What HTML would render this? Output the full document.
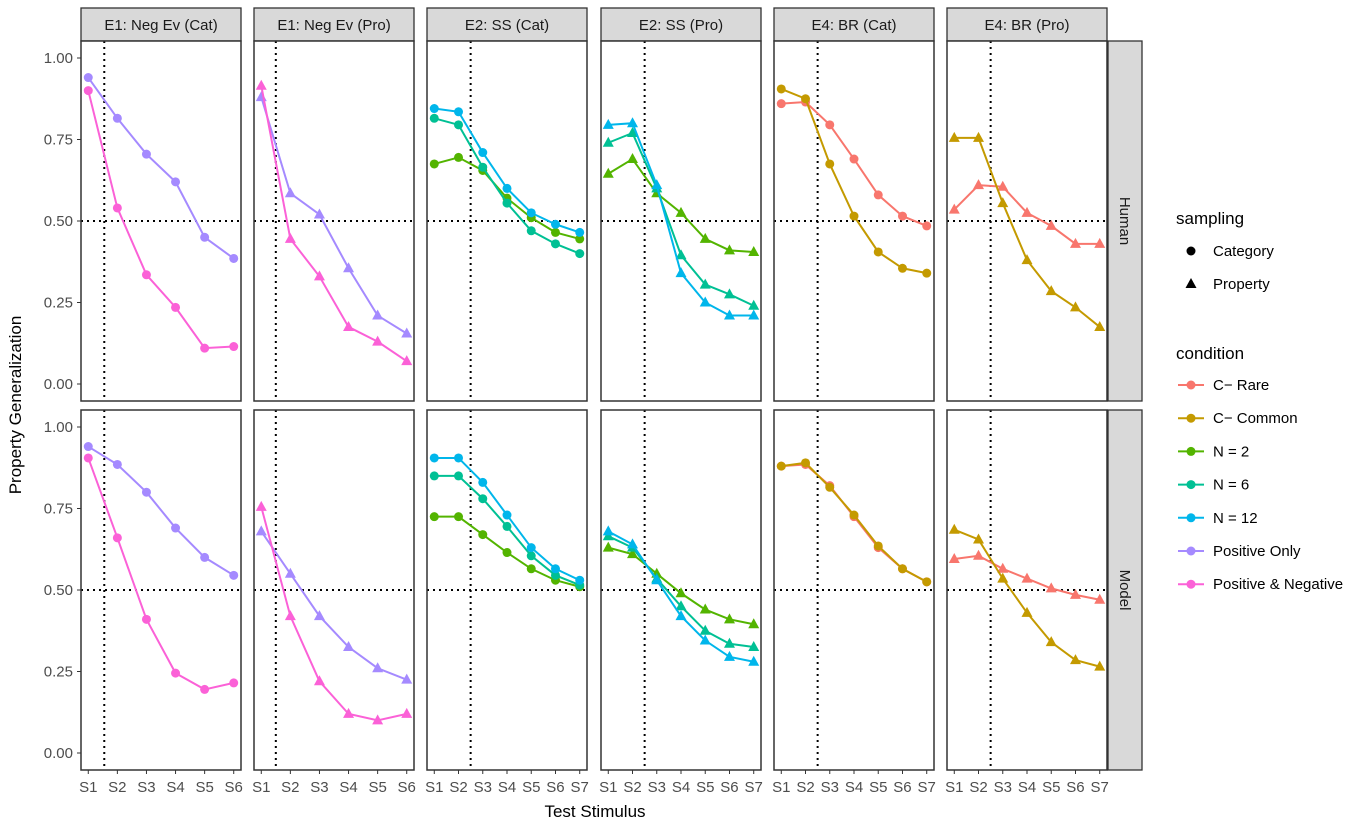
<!DOCTYPE html>
<html><head><meta charset="utf-8"><style>
body{margin:0;background:#fff;font-family:"Liberation Sans",sans-serif;}
svg text{font-family:"Liberation Sans",sans-serif;}
</style></head><body>
<svg id="c" width="1370" height="825" xmlns="http://www.w3.org/2000/svg"></svg>
<script>
const panelTitles=["E1: Neg Ev (Cat)","E1: Neg Ev (Pro)","E2: SS (Cat)","E2: SS (Pro)","E4: BR (Cat)","E4: BR (Pro)"];
const rowTitles=["Human","Model"];
const nStim=[6,6,7,7,7,7];
const vlinePos=[1.55,1.5,2.5,2.5,2.5,2.5];
const yTicks=[0,0.25,0.5,0.75,1];
const yTickLabels=["0.00","0.25","0.50","0.75","1.00"];
const condNames=["C\u2212 Rare","C\u2212 Common","N = 2","N = 6","N = 12","Positive Only","Positive & Negative"];
const condColors=["#F8766D","#C49A00","#53B400","#00C094","#00B6EB","#A58AFF","#FB61D7"];
const humanE1Cat=[[5,[.94,.815,.705,.62,.45,.385]],[6,[.90,.54,.335,.235,.11,.115]]];
const humanE1Pro=[[5,[.88,.585,.52,.355,.21,.155]],[6,[.915,.445,.33,.175,.13,.07]]];
const humanE2Cat=[[2,[.675,.695,.655,.57,.51,.465,.445]],[3,[.815,.795,.665,.555,.47,.43,.40]],[4,[.845,.835,.71,.60,.525,.49,.465]]];
const humanE2Pro=[[2,[.645,.69,.585,.525,.445,.41,.405]],[3,[.74,.77,.60,.395,.305,.275,.24]],[4,[.795,.80,.61,.34,.25,.21,.21]]];
const humanE4Cat=[[0,[.86,.865,.795,.69,.58,.515,.485]],[1,[.905,.875,.675,.515,.405,.355,.34]]];
const humanE4Pro=[[0,[.535,.61,.605,.525,.485,.43,.43]],[1,[.755,.755,.555,.38,.285,.235,.175]]];
const modelE1Cat=[[5,[.94,.885,.80,.69,.60,.545]],[6,[.905,.66,.41,.245,.195,.215]]];
const modelE1Pro=[[5,[.68,.55,.42,.325,.26,.225]],[6,[.755,.42,.22,.12,.10,.12]]];
const modelE2Cat=[[2,[.725,.725,.67,.615,.565,.53,.51]],[3,[.85,.85,.78,.695,.605,.545,.515]],[4,[.905,.905,.83,.73,.63,.565,.53]]];
const modelE2Pro=[[2,[.63,.61,.55,.49,.44,.41,.395]],[3,[.665,.63,.535,.45,.375,.335,.325]],[4,[.68,.64,.53,.42,.345,.295,.28]]];
const modelE4Cat=[[0,[.88,.885,.82,.725,.63,.565,.525]],[1,[.88,.89,.815,.73,.635,.565,.525]]];
const modelE4Pro=[[0,[.595,.605,.565,.535,.505,.485,.47]],[1,[.685,.655,.535,.43,.34,.285,.265]]];
const data=[[humanE1Cat,humanE1Pro,humanE2Cat,humanE2Pro,humanE4Cat,humanE4Pro],[modelE1Cat,modelE1Pro,modelE2Cat,modelE2Pro,modelE4Cat,modelE4Pro]];
const isTri=[false,true,false,true,false,true];

const svg=document.getElementById('c');const NS="http://www.w3.org/2000/svg";
function mk(t,a,p){const e=document.createElementNS(NS,t);for(const k in a)e.setAttribute(k,a[k]);(p||svg).appendChild(e);return e;}
const colX=[81,254,427,601,774,947],PW=160;
const rowY=[41,410],PH=360;
function ys(r,v){return rowY[r]+17+(1-v)*326;}
function xs(c,i){const n=nStim[c];const pad=0.05*(n-1);return colX[c]+PW*(i-1+pad)/(n-1+2*pad);}
for(let c=0;c<6;c++){
 const g=mk('g',{});
 
 mk('rect',{x:colX[c],y:8,width:PW,height:33,fill:'#D9D9D9',stroke:'#333','stroke-width':1.3},g);
 const t=mk('text',{x:colX[c]+PW/2,y:30,'text-anchor':'middle','font-size':15,fill:'#1a1a1a'},g);t.textContent=panelTitles[c];
}
for(let r=0;r<2;r++){
 const g=mk('g',{});
 
 mk('rect',{x:1108,y:rowY[r],width:34,height:PH,fill:'#D9D9D9',stroke:'#333','stroke-width':1.3},g);
 const t=mk('text',{x:0,y:0,'text-anchor':'middle','font-size':15,fill:'#1a1a1a',transform:`translate(1120,${rowY[r]+PH/2}) rotate(90)`},g);t.textContent=rowTitles[r];
}
for(let r=0;r<2;r++){
 for(let k=0;k<yTicks.length;k++){
  const y=ys(r,yTicks[k]);
  mk('line',{x1:77,x2:81,y1:y,y2:y,stroke:'#333','stroke-width':1});
  const t=mk('text',{x:73,y:y+5,'text-anchor':'end','font-size':15,fill:'#4d4d4d'});t.textContent=yTickLabels[k];
  
 }
 for(let c=0;c<6;c++){
  const g=mk('g',{});
  
  mk('rect',{x:colX[c],y:rowY[r],width:PW,height:PH,fill:'#fff',stroke:'none'},g);
  const vx=xs(c,vlinePos[c]);
  mk('line',{x1:vx,x2:vx,y1:rowY[r],y2:rowY[r]+PH,stroke:'#000','stroke-width':2,'stroke-dasharray':'2,4'},g);
  const hy=ys(r,0.5);
  mk('line',{x1:colX[c],x2:colX[c]+PW,y1:hy,y2:hy,stroke:'#000','stroke-width':2,'stroke-dasharray':'2,4'},g);
  for(const [ci,vals] of data[r][c]){
   const pts=vals.map((v,i)=>[xs(c,i+1),ys(r,v)]);
   const l=mk('polyline',{points:pts.map(p=>p.join(',')).join(' '),fill:'none',stroke:condColors[ci],'stroke-width':2},g);
   
   for(const [x,y] of pts){
    let m;
    if(isTri[c]) m=mk('polygon',{points:`${x},${y-6} ${x-5.5},${y+4} ${x+5.5},${y+4}`,fill:condColors[ci]},g);
    else m=mk('circle',{cx:x,cy:y,r:4.5,fill:condColors[ci]},g);
    
   }
  }
  mk('rect',{x:colX[c],y:rowY[r],width:PW,height:PH,fill:'none',stroke:'#333','stroke-width':1.5},g);
  if(r==1){
   for(let i=1;i<=nStim[c];i++){
    const x=xs(c,i);
    mk('line',{x1:x,x2:x,y1:770,y2:774,stroke:'#333'});
    const t=mk('text',{x:x,y:792,'text-anchor':'middle','font-size':15,fill:'#4d4d4d'});t.textContent='S'+i;
    
   }
  }
 }
}
let t=mk('text',{x:595,y:817,'text-anchor':'middle','font-size':17,fill:'#000'});t.textContent='Test Stimulus';

t=mk('text',{x:0,y:0,'text-anchor':'middle','font-size':17,fill:'#000',transform:'translate(21,405) rotate(-90)'});t.textContent='Property Generalization';

t=mk('text',{x:1176,y:224,'font-size':17,fill:'#000'});t.textContent='sampling';

mk('circle',{cx:1191,cy:251,r:4.5,fill:'#000'});
t=mk('text',{x:1213,y:256,'font-size':15,fill:'#000'});t.textContent='Category';

mk('polygon',{points:'1191,278 1185.5,288 1196.5,288',fill:'#000'});
t=mk('text',{x:1213,y:289,'font-size':15,fill:'#000'});t.textContent='Property';

t=mk('text',{x:1176,y:359,'font-size':17,fill:'#000'});t.textContent='condition';

for(let i=0;i<condNames.length;i++){
 const y=385+i*33.2;
 mk('line',{x1:1178,x2:1204,y1:y,y2:y,stroke:condColors[i],'stroke-width':2});
 mk('circle',{cx:1191,cy:y,r:4.5,fill:condColors[i]});
 const tt=mk('text',{x:1213,y:y+5,'font-size':15,fill:'#000'});tt.textContent=condNames[i];
 
}
</script>
</body></html>
